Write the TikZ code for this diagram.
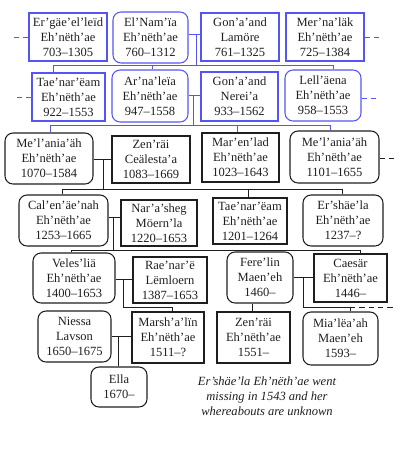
\documentclass[tikz,border=0pt]{standalone}
\usepackage{fontspec}
\setmainfont{Liberation Serif}
\definecolor{tblue}{RGB}{85,85,245}
\definecolor{tdark}{RGB}{30,30,30}
\newcommand\fsz{\fontsize{9.4}{11.25}\selectfont}
\tikzset{
  box/.style={draw, line width=0.8pt, align=center, inner sep=0pt, font=\fsz, text=tdark},
  sq/.style={box},
  rd/.style={box, rounded corners=6pt},
  bl/.style={draw=tblue},
  bk/.style={draw=tdark},
  sz/.style 2 args={minimum width=#1*0.75pt, minimum height=#2*0.75pt},
  ln/.style={line width=0.65pt, draw=tdark},
  lb/.style={line width=0.65pt, draw=tblue},
  dsh/.style={dash pattern=on 4pt off 3pt},
}
\begin{document}
\begin{tikzpicture}[x=0.75pt,y=-0.75pt]
\useasboundingbox (0,0) rectangle (416,458);

% Row A
\node[sq,bl,sz={78}{48}] (A1) at (68,37) {Er'gäe'el'leïd\\Eh'nëth'ae\\703--1305};
\node[rd,bl,sz={75}{51}] (A2) at (150.5,37.5) {El'Nam'ïa\\Eh'nëth'ae\\760--1312};
\node[sq,bl,sz={78}{48}] (A3) at (240,37) {Gon'a'and\\Lamöre\\761--1325};
\node[sq,bl,sz={78}{48}] (A4) at (325,37) {Mer'na'läk\\Eh'nëth'ae\\725--1384};

% Row B
\node[sq,bl,sz={73}{48}] (B1) at (68.5,97) {Tae'nar'ëam\\Eh'nëth'ae\\922--1553};
\node[rd,bl,sz={76}{52}] (B2) at (150,96) {Ar'na'leïa\\Eh'nëth'ae\\947--1558};
\node[sq,bl,sz={77}{49}] (B3) at (239.5,96.5) {Gon'a'and\\Nerei'a\\933--1562};
\node[rd,bl,sz={76}{51}] (B4) at (323,95.5) {Lell'äena\\Eh'nëth'ae\\958--1553};

% Row C
\node[rd,bk,sz={88}{51}] (C1) at (49,158.5) {Me'l'ania'äh\\Eh'nëth'ae\\1070--1584};
\node[sq,bk,sz={78}{47}] (C2) at (151,159.5) {Zen'räi\\Ceälesta'a\\1083--1669};
\node[sq,bk,sz={77}{49}] (C3) at (240.5,157.5) {Mar'en'lad\\Eh'nëth'ae\\1023--1643};
\node[rd,bk,sz={89}{52}] (C4) at (334.5,157) {Me'l'ania'äh\\Eh'nëth'ae\\1101--1655};

% Row D
\node[rd,bk,sz={89}{51}] (D1) at (63.5,220.5) {Cal'en'äe'nah\\Eh'nëth'ae\\1253--1665};
\node[sq,bk,sz={76}{46}] (D2) at (159,223) {Nar'a'sheg\\Möern'la\\1220--1653};
\node[sq,bk,sz={74}{46}] (D3) at (250,221) {Tae'nar'ëam\\Eh'nëth'ae\\1201--1264};
\node[rd,bk,sz={80}{51}] (D4) at (343,220.5) {Er'shäe'la\\Eh'nëth'ae\\1237--?};

% Row E
\node[rd,bk,sz={82}{50}] (E1) at (74,278) {Veles'liä\\Eh'nëth'ae\\1400--1653};
\node[sq,bk,sz={74}{46}] (E2) at (170,280) {Rae'nar'ë\\Lëmloern\\1387--1653};
\node[rd,bk,sz={66}{51}] (E3) at (260,277.5) {Fere'lin\\Maen'eh\\1460--};
\node[sq,bk,sz={73}{48}] (E4) at (350.5,278) {Caesär\\Eh'nëth'ae\\1446--};

% Row F
\node[rd,bk,sz={73}{51}] (F1) at (74.5,336.5) {Niessa\\Lavson\\1650--1675};
\node[sq,bk,sz={72}{51}] (F2) at (168,337.5) {Marsh'a'lïn\\Eh'nëth'ae\\1511--?};
\node[sq,bk,sz={73}{51}] (F3) at (253.5,337.5) {Zen'räi\\Eh'nëth'ae\\1551--};
\node[rd,bk,sz={75}{53}] (F4) at (340.5,338.5) {Mia'lëa'ah\\Maen'eh\\1593--};

% Row G
\node[rd,bk,sz={56}{40}] (G1) at (119,387) {Ella\\1670--};

% Note
\node[font=\fsz\itshape, align=center, text=tdark, inner sep=0pt] (N) at (267,396)
  {Er'shäe'la Eh'nëth'ae went\\missing in 1543 and her\\whereabouts are unknown};

% Group 1 (blue)
\coordinate (j1) at (196,34);
\coordinate (k1) at (196,65);
\coordinate (d1a) at (53,65);
\coordinate (d1b) at (152,65);
\coordinate (d1c) at (333,65);
\draw[lb] (A2.east |- j1) -- (A3.west |- j1);
\draw[lb] (j1) -- (k1);
\draw[lb] (d1a) -- (d1c);
\draw[lb] (d1a) -- (d1a |- B1.north);
\draw[lb] (d1b) -- (d1b |- B2.north);
\draw[lb] (d1c) -- (d1c |- B4.north);

% Group 2 (blue)
\coordinate (j2) at (193,95);
\coordinate (k2) at (193,125);
\coordinate (d2a) at (50,125);
\coordinate (d2b) at (237,125);
\coordinate (d2c) at (330,125);
\draw[lb] (B2.east |- j2) -- (B3.west |- j2);
\draw[lb] (j2) -- (k2);
\draw[lb] (d2a) -- (d2c);
\draw[lb] (d2a) -- (d2a |- C1.north);
\draw[lb] (d2b) -- (d2b |- C3.north);
\draw[lb] (d2c) -- (d2c |- C4.north);

% Group 3
\coordinate (j3) at (103,159);
\coordinate (k3) at (103,189);
\coordinate (d3a) at (62,189);
\coordinate (d3b) at (248,189);
\coordinate (d3c) at (342,189);
\draw[ln] (C1.east |- j3) -- (C2.west |- j3);
\draw[ln] (j3) -- (k3);
\draw[ln] (d3a) -- (d3c);
\draw[ln] (d3a) -- (d3a |- D1.north);
\draw[ln] (d3b) -- (d3b |- D3.north);
\draw[ln] (d3c) -- (d3c |- D4.north);

% Group 4
\coordinate (j4) at (113,217);
\coordinate (k4) at (113,250);
\coordinate (d4a) at (71,250);
\coordinate (d4b) at (360,250);
\draw[ln] (D1.east |- j4) -- (D2.west |- j4);
\draw[ln] (j4) -- (k4);
\draw[ln] (d4a) -- (d4b);
\draw[ln] (d4a) -- (d4a |- E1.north);
\draw[ln] (d4b) -- (d4b |- E4.north);

% Group 5
\coordinate (j5) at (123,279);
\coordinate (k5) at (123,307);
\coordinate (d5a) at (172,307);
\draw[ln] (E1.east |- j5) -- (E2.west |- j5);
\draw[ln] (j5) -- (k5) -- (d5a);
\draw[ln] (d5a) -- (d5a |- F2.north);

% Group 6
\coordinate (j6) at (303,277);
\coordinate (k6) at (303,307);
\coordinate (d6a) at (350,307);
\coordinate (d6e) at (393,307);
\coordinate (d6f) at (252,303);
\draw[ln] (E3.east |- j6) -- (E4.west |- j6);
\draw[ln] (j6) -- (k6) -- (d6a);
\draw[ln,dsh] (d6a) -- (d6e);
\draw[ln] (d6a) -- (d6a |- F4.north);
\draw[ln] (d6f |- E3.south) -- (d6f |- F3.north);

% Group 7
\coordinate (j7) at (118,336);
\draw[ln] (F1.east |- j7) -- (F2.west |- j7);
\draw[ln] (j7) -- (j7 |- G1.north);

% Dashed stubs
\coordinate (s1) at (12,37);
\coordinate (s2) at (14,97);
\coordinate (s3) at (380,37);
\coordinate (s4) at (378,98);
\coordinate (s5) at (397,158);
\draw[lb,dsh] (A1.west) -- (s1);
\draw[lb,dsh] (B1.west) -- (s2);
\draw[lb,dsh] (A4.east) -- (s3);
\draw[lb,dsh] (B4.east |- s4) -- (s4);
\draw[ln,dsh] (C4.east |- s5) -- (s5);
\end{tikzpicture}
\end{document}
